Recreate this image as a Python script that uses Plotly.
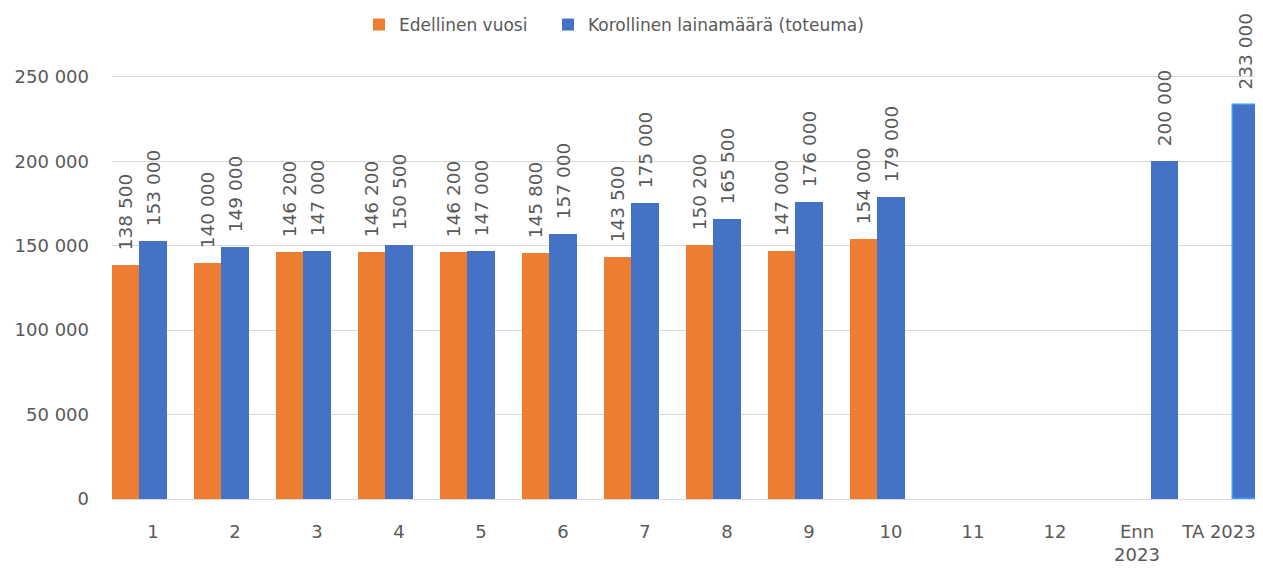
import plotly.graph_objects as go

categories = ["1", "2", "3", "4", "5", "6", "7", "8", "9", "10", "11", "12", "Enn<br>2023", "TA 2023"]
edellinen = [138500, 140000, 146200, 146200, 146200, 145800, 143500, 150200, 147000, 154000, None, None, None, None]
korollinen = [153000, 149000, 147000, 150500, 147000, 157000, 175000, 165500, 176000, 179000, None, None, None, None]
ennuste_ta = [None, None, None, None, None, None, None, None, None, None, None, None, 200000, 233000]
series_names = ["Edellinen vuosi", "Korollinen lainamäärä (toteuma)", "Ennuste / TA 2023"]
colors = ["#ED7D31", "#4472C4", "#4472C4"]
legend_ids = ["legend", "legend2", "legend"]
show_in_legend = [True, True, False]
edge_colors = ["rgba(0,0,0,0)"] * 13 + ["#3D9BFF"]
edge_widths = [0] * 13 + [1.5]

FONT = "DejaVu Sans"
GREY = "#595959"

# page body has an 8px default margin; figure is sized to compensate
W, H = 1255, 561

fig = go.Figure()
for i, (name, vals, col, lg, sl) in enumerate(zip(series_names, [edellinen, korollinen, ennuste_ta],
                                                  colors, legend_ids, show_in_legend)):
    line = dict(width=0) if i < 2 else dict(color=edge_colors, width=edge_widths)
    fig.add_trace(go.Bar(
        x=categories, y=vals, name=name, legend=lg, showlegend=sl,
        marker=dict(color=col, line=line),
        texttemplate="\u00a0\u00a0%{y:,}",
        textposition="outside", textangle=-90,
        textfont=dict(family=FONT, size=18.5, color=GREY),
        cliponaxis=False, constraintext="none",
    ))

leg_common = dict(orientation="h", xref="container", yref="container",
                  xanchor="left", y=1 - 17 / H, yanchor="middle",
                  font=dict(family=FONT, size=17, color=GREY), itemwidth=30)

fig.update_layout(
    width=W, height=H,
    margin=dict(l=104, r=3, t=35, b=70, autoexpand=False),
    paper_bgcolor="white", plot_bgcolor="white",
    barmode="group", bargap=0.0, bargroupgap=0,
    separators=". ",
    font=dict(family=FONT, size=18, color=GREY),
    showlegend=True,
    legend=dict(x=(365 - 14) / W, **leg_common),
    legend2=dict(x=(554 - 14) / W, **leg_common),
    xaxis=dict(showgrid=False, showline=True, linecolor="#D9D9D9", linewidth=1,
               ticks="", tickfont=dict(family=FONT, size=18, color=GREY),
               ticklabelstandoff=16, fixedrange=True, automargin=False),
    yaxis=dict(range=[0, 270000], dtick=50000, tickformat=",",
               showgrid=True, gridcolor="#D9D9D9", gridwidth=1,
               zeroline=False, showline=False, ticks="",
               tickfont=dict(family=FONT, size=18, color=GREY),
               ticklabelstandoff=22, fixedrange=True, automargin=False),
)

fig.write_html("out.html")
